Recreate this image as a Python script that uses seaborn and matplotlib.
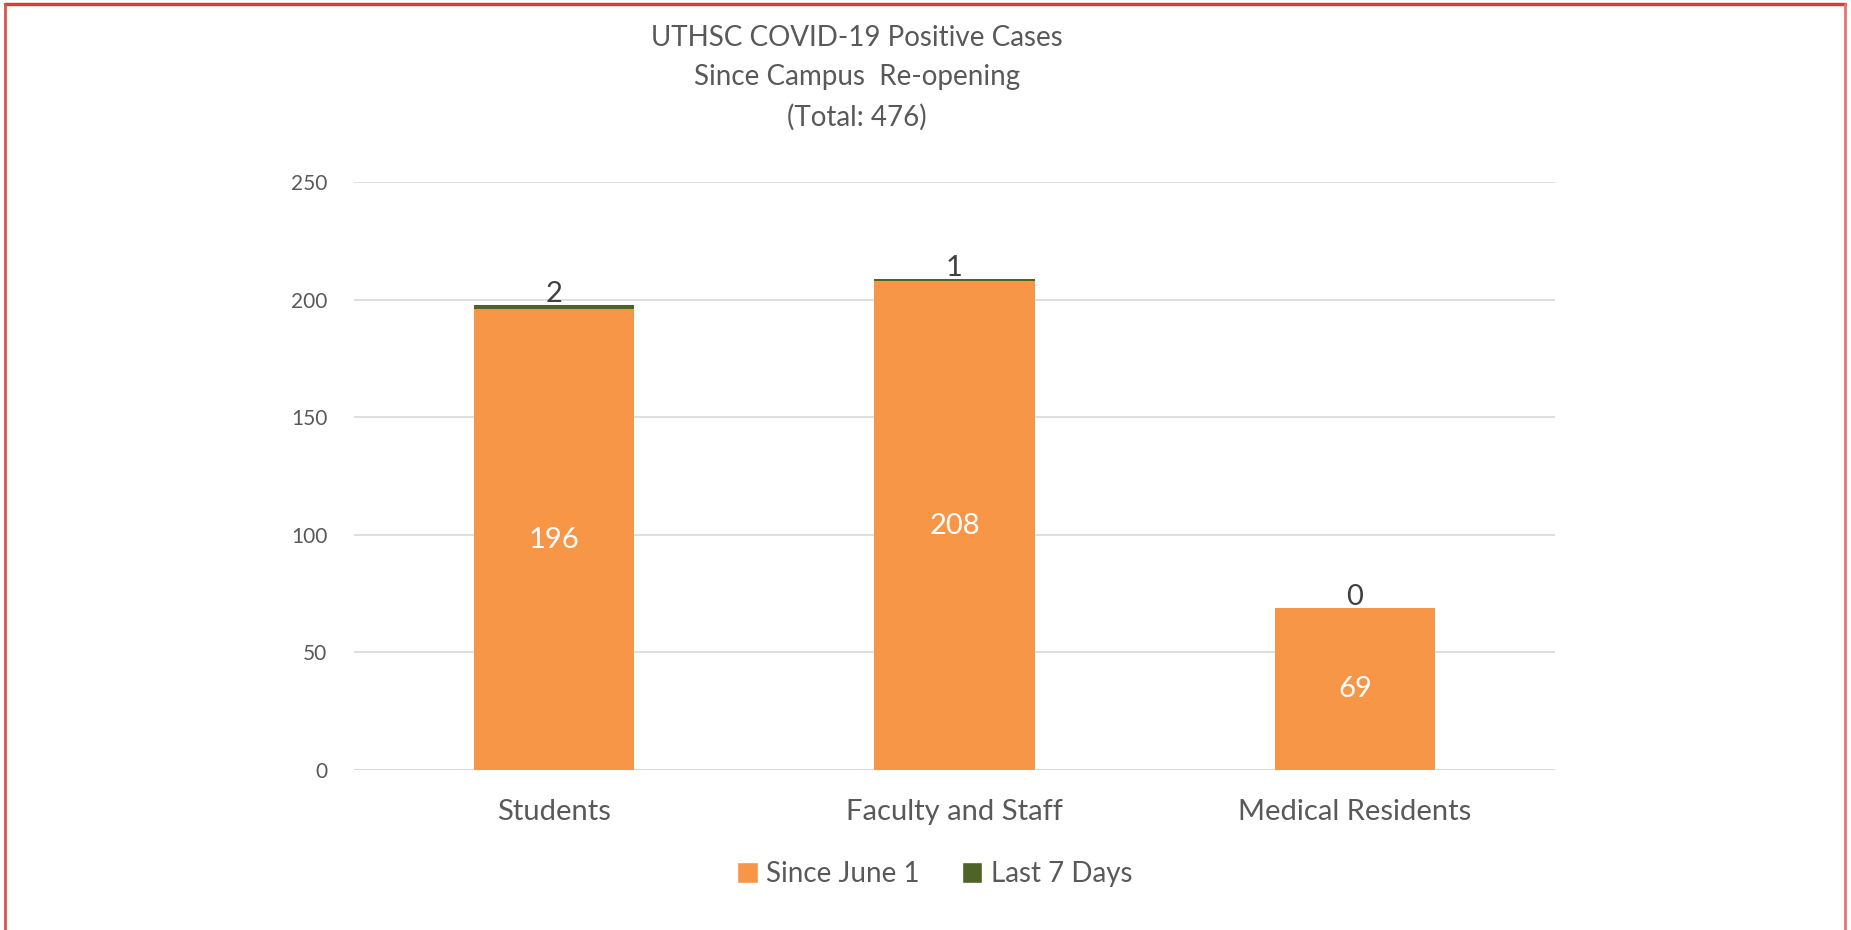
import pandas as pd
import seaborn as sns
import matplotlib.pyplot as plt
from matplotlib.patches import Patch
from matplotlib.lines import Line2D

categories = ["Students", "Faculty and Staff", "Medical Residents"]
since_june1 = [196, 208, 69]
last_7_days = [2, 1, 0]

ORANGE = "#F79646"
GREEN = "#4F6228"
GRAY = "#595959"

df = pd.DataFrame({"category": categories, "since": since_june1, "last7": last_7_days})
df["total"] = df["since"] + df["last7"]

sns.set_style("white")
plt.rcParams["font.family"] = ["Lato", "DejaVu Sans"]

fig = plt.figure(figsize=(18.51, 9.30), dpi=100)
ax = fig.add_axes([0.1912, 0.172, 0.649, 0.632])

# stacked look: total in green underneath, orange on top of it
sns.barplot(x="category", y="total", data=df, color=GREEN, width=0.4, ax=ax,
            saturation=1, linewidth=0, zorder=3)
sns.barplot(x="category", y="since", data=df, color=ORANGE, width=0.4, ax=ax,
            saturation=1, linewidth=0, zorder=3)

ax.set_ylim(0, 250)
ax.set_xlim(-0.5, 2.5)
ax.set_yticks([0, 50, 100, 150, 200, 250])
ax.yaxis.grid(True, color="#D9D9D9", linewidth=1.2, zorder=0)
ax.set_axisbelow(True)
for s in ax.spines.values():
    s.set_visible(False)
ax.axhline(0, color="#D9D9D9", linewidth=1.2, zorder=1)
ax.tick_params(axis="y", length=0, pad=19, labelsize=15, labelcolor=GRAY)
ax.tick_params(axis="x", length=0, pad=21, labelsize=21, labelcolor=GRAY)
ax.set_xlabel("")
ax.set_ylabel("")

for i, row in df.iterrows():
    ax.text(i, row["since"] / 2, str(row["since"]), ha="center", va="center",
            color="white", fontsize=21)
    ax.text(i, row["total"] - 1.0, str(row["last7"]), ha="center", va="bottom",
            color="#404040", fontsize=21, zorder=5)

fig.text(0.463, 0.973, "UTHSC COVID-19 Positive Cases\nSince Campus  Re-opening\n(Total: 476)",
         ha="center", va="top", fontsize=20, color=GRAY, linespacing=1.62)

handles = [Patch(facecolor=ORANGE, label="Since June 1"),
           Patch(facecolor=GREEN, label="Last 7 Days")]
fig.legend(handles=handles, loc="center", bbox_to_anchor=(0.505, 0.06), ncol=2,
           frameon=False, fontsize=20, labelcolor=GRAY, handlelength=0.75,
           handleheight=0.75, handletextpad=0.3, columnspacing=1.5)

# red frame around the chart
fig.add_artist(Line2D([0.0025, 0.9965], [0.9955, 0.9955], color="#D04040", linewidth=2.5))
fig.add_artist(Line2D([0.0025, 0.0025], [0.0, 0.9955], color="#D9534F", linewidth=2))
fig.add_artist(Line2D([0.9965, 0.9965], [0.0, 0.9955], color="#E57373", linewidth=2))

fig.savefig("out.png", dpi=100)
